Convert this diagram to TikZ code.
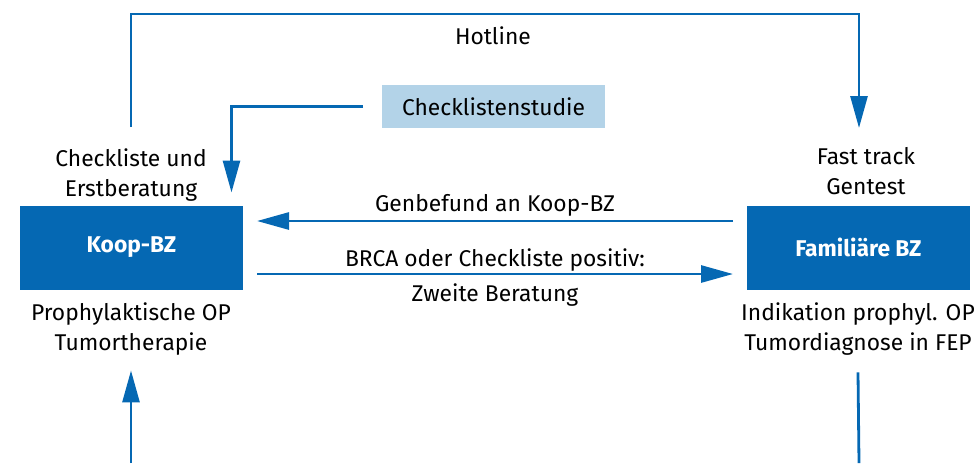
\documentclass[tikz,border=0pt]{standalone}
\usepackage{fontspec}
\setmainfont{Fira Sans}
\usetikzlibrary{arrows.meta}

\definecolor{bzblue}{HTML}{0568B3}
\definecolor{studyblue}{HTML}{B3D3E8}

\tikzset{
  bzbox/.style={fill=bzblue, text=white, font=\fontsize{11.4pt}{15pt}\selectfont\bfseries,
    minimum width=111.5pt, minimum height=42pt, inner sep=0pt, outer xsep=7pt, outer ysep=6.5pt},
  studybox/.style={fill=studyblue, minimum width=111.5pt, minimum height=21.5pt,
    inner sep=0pt, outer xsep=9.5pt},
  lbl/.style={align=center, inner sep=0pt, anchor=north},
  link/.style={draw=bzblue, line width=1.4pt, -{Triangle[length=16pt,width=8.5pt]}},
  plainlink/.style={draw=bzblue, line width=1.4pt}
}

\begin{document}
\begin{tikzpicture}[x=0.5pt, y=-0.5pt, font=\fontsize{11.4pt}{15pt}\selectfont]

\useasboundingbox (0,0) rectangle (974,463);

% Boxes
\node[bzbox] (koop) at (131.5,247.5) {Koop-BZ};
\node[bzbox] (fam) at (858.5,247.5) {Familiäre BZ};
\node[studybox] (study) at (493.5,106.5) {Checklistenstudie};

% Texts round the boxes
\node[lbl] (erst) at (131,148) {Checkliste und\\Erstberatung};
\node[lbl] (fast) at (866,147) {Fast track\\Gentest};
\node[lbl] (proph) at (131,302) {Prophylaktische OP\\Tumortherapie};
\node[lbl] (indi) at (858,302) {Indikation prophyl. OP\\Tumordiagnose in FEP};
\node[lbl] (hot) at (493,26) {Hotline};

% Hotline
\draw[link] ([yshift=10.5pt]erst.north) -- ++(0,-113) -| ([xshift=-3.5pt,yshift=9.5pt]fast.north);

% Checklistenstudie
\draw[link] (study.west) -| ([xshift=50pt]koop.north);

% Between the centres
\draw[link] ([yshift=13.25pt]fam.west) -- node[midway, anchor=base, yshift=5pt] {Genbefund an Koop-BZ} ([yshift=13.25pt]koop.east);
\draw[link] ([yshift=-13.25pt]koop.east) -- node[midway, anchor=base, yshift=4pt] {BRCA oder Checkliste positiv:}
    node[midway, anchor=base, yshift=-13.5pt] {Zweite Beratung} ([yshift=-13.25pt]fam.west);

% Bottom
\coordinate (leftin) at (131,463);
\coordinate (rightout) at (859,463);
\draw[link] (leftin) -- ([yshift=-7.5pt]proph.south);
\draw[plainlink] ([yshift=-8.5pt]indi.south) -- (rightout);

\end{tikzpicture}
\end{document}
